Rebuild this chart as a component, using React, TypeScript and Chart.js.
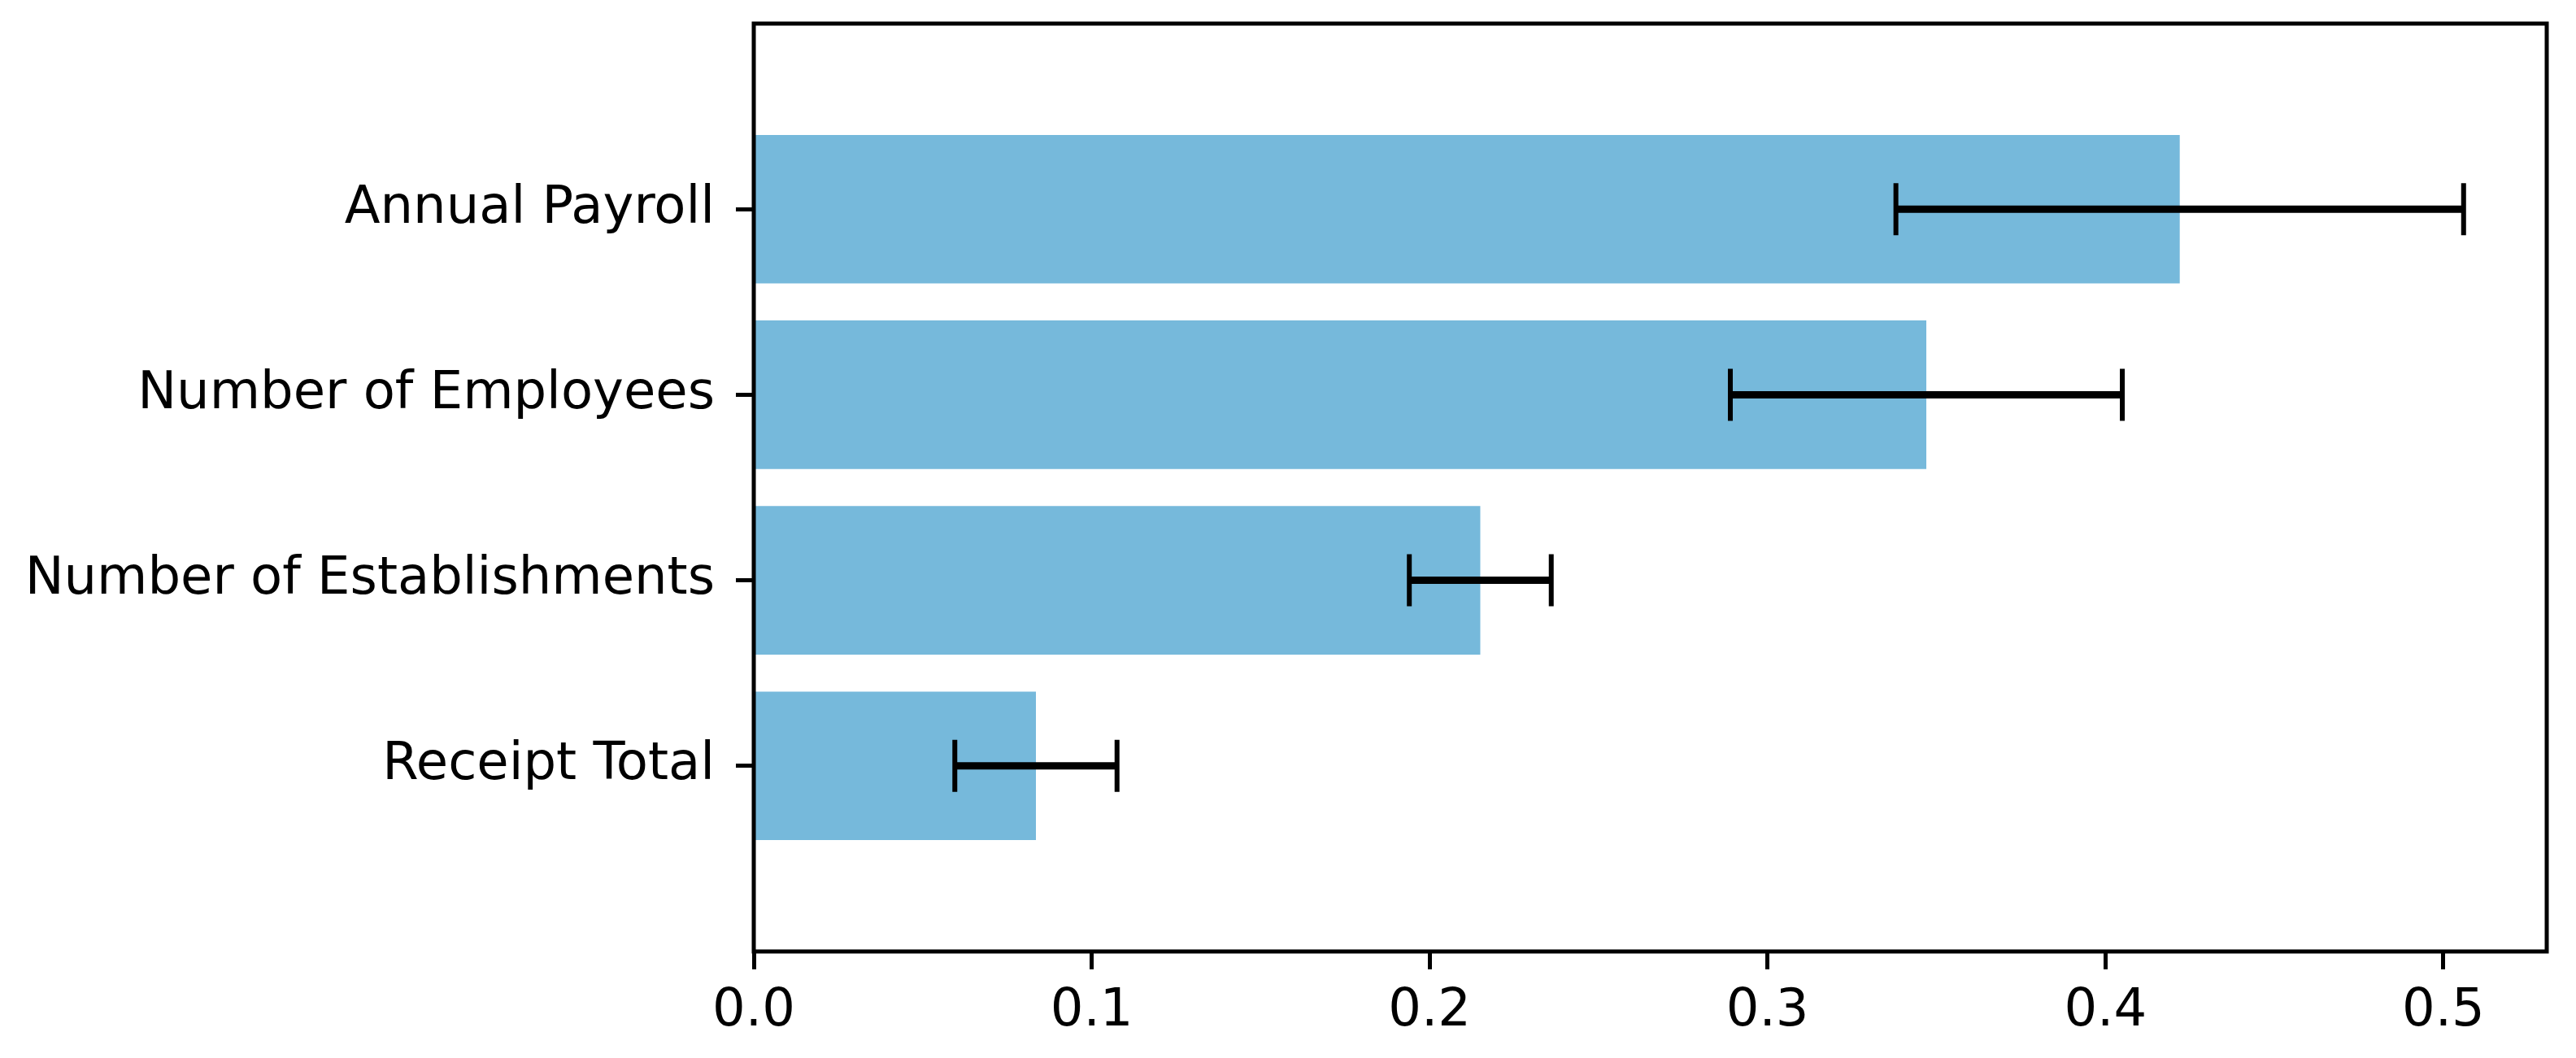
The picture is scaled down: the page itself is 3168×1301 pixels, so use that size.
import React, { useEffect, useRef } from 'react';
import { Chart, registerables } from 'chart.js';

Chart.register(...registerables);

// ---- data ----
const categories = ['Annual Payroll', 'Number of Employees', 'Number of Establishments', 'Receipt Total'];
const values = [0.422, 0.347, 0.215, 0.0835];
const errors = [0.084, 0.058, 0.021, 0.024];
const xTickValues = [0, 0.1, 0.2, 0.3, 0.4, 0.5];
const X_MIN = 0;
const X_MAX = 0.5306;

// padding categories so the category axis spans the same range as the reference
const labels = ['', ...categories, ''];
const paddedValues: (number | null)[] = [null, ...values, null];
const paddedErrors: (number | null)[] = [null, ...errors, null];

const W = 3168;
const H = 1301;
const FONT = { family: 'DejaVu Sans', size: 64 };

const errorBarPlugin = {
  id: 'errorBars',
  afterDatasetsDraw(chart: any) {
    const meta = chart.getDatasetMeta(0);
    const xs = chart.scales.x;
    const ctx = chart.ctx;
    ctx.save();
    ctx.strokeStyle = '#000';
    meta.data.forEach((bar: any, i: number) => {
      const v = paddedValues[i];
      const e = paddedErrors[i];
      if (v == null || e == null) return;
      const y = bar.y;
      const x1 = xs.getPixelForValue(v - e);
      const x2 = xs.getPixelForValue(v + e);
      ctx.lineCap = 'butt';
      ctx.lineWidth = 9;
      ctx.beginPath();
      ctx.moveTo(x1, y);
      ctx.lineTo(x2, y);
      ctx.stroke();
      ctx.lineWidth = 6;
      ctx.beginPath();
      ctx.moveTo(x1, y - 32);
      ctx.lineTo(x1, y + 32);
      ctx.moveTo(x2, y - 32);
      ctx.lineTo(x2, y + 32);
      ctx.stroke();
    });
    ctx.restore();
  },
};

const framePlugin = {
  id: 'frame',
  afterDraw(chart: any) {
    const { left, top, right, bottom } = chart.chartArea;
    const ctx = chart.ctx;
    ctx.save();
    ctx.strokeStyle = '#000';
    ctx.lineWidth = 5;
    ctx.strokeRect(left, top, right - left, bottom - top);
    ctx.restore();
  },
};

const whiteBg = {
  id: 'whiteBg',
  beforeDraw(chart: any) {
    const ctx = chart.ctx;
    ctx.save();
    ctx.fillStyle = '#fff';
    ctx.fillRect(0, 0, chart.width, chart.height);
    ctx.restore();
  },
};

export default function App() {
  const canvasRef = useRef<HTMLCanvasElement | null>(null);

  useEffect(() => {
    if (!canvasRef.current) return;
    const chart = new Chart(canvasRef.current, {
      type: 'bar',
      data: {
        labels,
        datasets: [
          {
            data: paddedValues as any,
            backgroundColor: 'rgb(118,185,219)',
            borderWidth: 0,
            barPercentage: 0.8,
            categoryPercentage: 1.0,
          },
        ],
      },
      plugins: [whiteBg, errorBarPlugin, framePlugin],
      options: {
        indexAxis: 'y',
        responsive: false,
        animation: false,
        devicePixelRatio: 1,
        layout: { padding: { left: 0, top: 29, right: 36, bottom: 0 } },
        plugins: {
          legend: { display: false },
          tooltip: { enabled: false },
        },
        scales: {
          x: {
            type: 'linear',
            min: X_MIN,
            max: X_MAX,
            afterFit: (scale: any) => {
              scale.height = 131;
              scale.paddingLeft = 0;
              scale.paddingRight = 0;
            },
            afterBuildTicks: (scale: any) => {
              scale.ticks = xTickValues.map((v) => ({ value: v }));
            },
            ticks: {
              font: FONT,
              color: '#000',
              padding: 14,
              maxRotation: 0,
              autoSkip: false,
              callback: (v: any) => Number(v).toFixed(1),
            },
            grid: {
              drawOnChartArea: false,
              drawTicks: true,
              tickLength: 22,
              tickWidth: 5,
              tickColor: '#000',
            },
            border: { display: false },
          },
          y: {
            type: 'category',
            offset: false,
            afterFit: (scale: any) => {
              scale.width = 927;
              scale.paddingTop = 0;
              scale.paddingBottom = 0;
            },
            ticks: {
              font: FONT,
              color: '#000',
              padding: 26,
              autoSkip: false,
            },
            grid: {
              offset: false,
              drawOnChartArea: false,
              drawTicks: true,
              tickLength: 22,
              tickWidth: 5,
              tickColor: (ctx: any) =>
                ctx.tick && ctx.tick.label === '' ? 'rgba(0,0,0,0)' : '#000',
            },
            border: { display: false },
          },
        },
      } as any,
    });
    return () => chart.destroy();
  }, []);

  return (
    <div style={{ position: 'fixed', left: 0, top: 0, width: W, height: H, background: '#fff' }}>
      <canvas ref={canvasRef} width={W} height={H} style={{ width: W, height: H, display: 'block' }} />
    </div>
  );
}
